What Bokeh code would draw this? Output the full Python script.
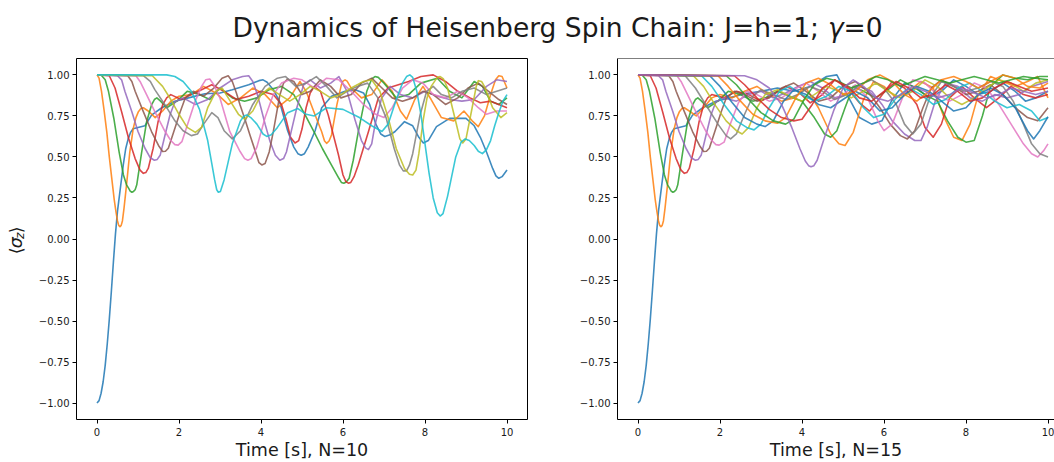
import math
from bokeh.plotting import figure
from bokeh.models import Range1d, Label, Span, FixedTicker, CustomJSTickFormatter
from bokeh.layouts import column, row
from bokeh.embed import file_html
from bokeh.resources import INLINE

TAB10 = ["#1f77b4", "#ff7f0e", "#2ca02c", "#d62728", "#9467bd",
         "#8c564b", "#e377c2", "#7f7f7f", "#bcbd22", "#17becf"]

TITLE = "Dynamics of Heisenberg Spin Chain: J=h=1; "
XLABEL_LEFT = "Time [s], N=10"
XLABEL_RIGHT = "Time [s], N=15"
X_TICKS = [0, 2, 4, 6, 8, 10]
Y_TICKS = [-1.0, -0.75, -0.5, -0.25, 0.0, 0.25, 0.5, 0.75, 1.0]

# ---- N = 10 : (time, <sigma_z>) per site ----
L0 = [(0,-1),(.05,-.985),(.1,-.94),(.15,-.87),(.2,-.77),(.25,-.64),(.3,-.49),(.35,-.32),(.4,-.14),(.45,.03),(.5,.17),(.56,.29),(.64,.45),(.7,.55),(.76,.61),(.82,.65),(.88,.672),(1.0,.68),(1.17,.69),(1.33,.755),(1.58,.80),(1.9,.84),(2.23,.86),(2.63,.885),(3.0,.89),(3.3,.91),(3.7,.94),(3.95,.965),(4.05,.97),(4.15,.955),(4.3,.91),(4.45,.84),(4.65,.66),(4.8,.56),(4.9,.52),(4.98,.51),(5.06,.52),(5.15,.56),(5.32,.66),(5.48,.80),(5.72,.87),(6.05,.90),(6.3,.91),(6.5,.89),(6.65,.82),(6.8,.70),(6.92,.64),(7.02,.625),(7.15,.635),(7.27,.655),(7.5,.715),(7.7,.69),(7.85,.62),(7.96,.585),(8.08,.60),(8.28,.685),(8.6,.735),(9.0,.735),(9.2,.69),(9.35,.62),(9.5,.53),(9.65,.43),(9.73,.385),(9.8,.37),(9.88,.38),(10,.42)]
L1 = [(0,1),(.05,.98),(.11,.90),(.17,.79),(.24,.65),(.3,.5),(.36,.37),(.42,.24),(.46,.17),(.5,.11),(.53,.083),(.56,.075),(.59,.083),(.62,.11),(.66,.19),(.72,.33),(.8,.53),(.885,.675),(.95,.74),(1.01,.776),(1.07,.795),(1.13,.80),(1.25,.78),(1.42,.74),(1.6,.78),(1.8,.84),(2.0,.87),(2.3,.88),(2.6,.93),(2.9,.89),(3.2,.82),(3.5,.86),(3.8,.92),(4.1,.88),(4.4,.80),(4.7,.86),(4.95,.96),(5.1,.90),(5.32,.756),(5.48,.654),(5.55,.597),(5.6,.583),(5.66,.597),(5.72,.634),(5.85,.817),(5.96,.939),(6.0,.962),(6.05,.97),(6.1,.962),(6.2,.92),(6.45,.86),(6.7,.88),(6.95,.97),(7.2,.90),(7.4,.78),(7.55,.73),(7.75,.85),(7.95,.93),(8.15,.85),(8.4,.74),(8.7,.72),(8.95,.78),(9.15,.72),(9.3,.685),(9.45,.75),(9.6,.88),(9.72,.97),(9.8,.995),(9.88,.99),(10,.92)]
L2 = [(0,1),(.1,1.0),(.2,.97),(.28,.90),(.41,.736),(.54,.53),(.645,.39),(.72,.33),(.77,.31),(.81,.292),(.85,.285),(.89,.29),(.93,.30),(.97,.33),(1.03,.43),(1.09,.53),(1.21,.715),(1.33,.817),(1.4,.85),(1.46,.86),(1.55,.84),(1.7,.80),(1.95,.84),(2.2,.90),(2.5,.88),(2.75,.85),(3.0,.92),(3.3,.86),(3.6,.84),(3.9,.86),(4.2,.91),(4.5,.93),(4.8,.88),(5.07,.76),(5.3,.65),(5.5,.55),(5.72,.45),(5.9,.37),(5.96,.345),(6.02,.34),(6.08,.347),(6.15,.37),(6.25,.48),(6.37,.65),(6.5,.81),(6.58,.90),(6.7,.975),(6.78,.99),(6.86,.985),(7.0,.95),(7.3,.86),(7.6,.88),(7.9,.95),(8.3,.98),(8.6,.90),(8.9,.86),(9.2,.96),(9.4,.93),(9.6,.84),(9.8,.82),(10,.86)]
L3 = [(0,1),(.3,.995),(.44,.92),(.6,.776),(.77,.614),(.93,.49),(1.05,.42),(1.13,.40),(1.19,.405),(1.25,.43),(1.37,.553),(1.49,.715),(1.6,.817),(1.7,.86),(1.8,.88),(2.05,.85),(2.3,.88),(2.55,.91),(2.8,.94),(3.1,.90),(3.4,.85),(3.7,.87),(4.0,.90),(4.3,.88),(4.5,.82),(4.62,.72),(4.72,.62),(4.83,.585),(4.92,.60),(5.0,.67),(5.1,.80),(5.2,.89),(5.3,.93),(5.45,.90),(5.64,.756),(5.89,.512),(6.0,.39),(6.07,.35),(6.13,.34),(6.19,.345),(6.27,.38),(6.37,.45),(6.62,.654),(6.86,.858),(7.1,.92),(7.35,.94),(7.6,.96),(7.9,.99),(8.2,1.0),(8.5,.96),(8.8,.90),(9.1,.86),(9.35,.83),(9.6,.84),(9.8,.82),(10,.80)]
L4 = [(0,1),(.5,.995),(.6,.97),(.68,.90),(.85,.776),(1.0,.655),(1.17,.553),(1.3,.495),(1.4,.48),(1.47,.485),(1.54,.51),(1.66,.634),(1.78,.756),(1.9,.837),(2.1,.86),(2.4,.82),(2.7,.85),(3.0,.92),(3.3,.97),(3.55,.99),(3.7,.995),(3.8,.96),(3.9,.89),(3.98,.817),(4.1,.70),(4.22,.594),(4.35,.51),(4.46,.48),(4.55,.49),(4.62,.53),(4.75,.67),(4.87,.797),(5.04,.94),(5.2,.97),(5.45,.92),(5.7,.95),(5.9,.99),(6.1,.90),(6.3,.72),(6.45,.60),(6.55,.555),(6.62,.545),(6.7,.58),(6.78,.695),(6.94,.858),(7.15,.93),(7.4,.88),(7.7,.86),(8.0,.90),(8.3,.87),(8.6,.85),(8.9,.84),(9.2,.85),(9.5,.93),(9.75,.97),(10,.96)]
L5 = [(0,1),(.75,.995),(.85,.96),(.93,.90),(1.13,.776),(1.33,.655),(1.5,.57),(1.6,.533),(1.67,.535),(1.74,.553),(1.9,.675),(2.03,.776),(2.15,.858),(2.35,.90),(2.6,.87),(2.85,.92),(3.05,.98),(3.2,.995),(3.3,.96),(3.4,.89),(3.49,.817),(3.62,.72),(3.73,.634),(3.88,.52),(3.95,.465),(4.02,.451),(4.1,.46),(4.2,.53),(4.3,.654),(4.46,.878),(4.55,.95),(4.65,.975),(4.8,.96),(5.0,.88),(5.2,.90),(5.45,.97),(5.7,.93),(5.95,.86),(6.2,.88),(6.45,.95),(6.7,.98),(6.95,.92),(7.2,.86),(7.45,.84),(7.7,.86),(7.95,.90),(8.2,.88),(8.5,.82),(8.8,.86),(9.05,.92),(9.3,.95),(9.55,.90),(9.8,.85),(10,.82)]
L6 = [(0,1),(.95,.995),(1.05,.96),(1.17,.90),(1.41,.776),(1.66,.655),(1.8,.60),(1.9,.575),(1.98,.572),(2.07,.593),(2.23,.715),(2.39,.837),(2.55,.93),(2.65,.97),(2.75,.975),(2.85,.94),(3.0,.858),(3.24,.654),(3.49,.533),(3.6,.49),(3.68,.48),(3.76,.49),(3.9,.56),(4.1,.74),(4.3,.88),(4.5,.95),(4.8,.98),(5.0,.97),(5.3,.92),(5.6,.98),(5.9,.97),(6.2,.90),(6.5,.82),(6.8,.76),(7.0,.74),(7.2,.80),(7.45,.92),(7.7,.97),(7.95,.95),(8.2,.88),(8.5,.86),(8.8,.90),(9.05,.86),(9.3,.80),(9.5,.76),(9.75,.78),(10,.78)]
L7 = [(0,1),(1.13,.995),(1.3,.96),(1.41,.91),(1.66,.817),(1.9,.72),(2.1,.66),(2.3,.63),(2.45,.64),(2.6,.70),(2.8,.77),(2.95,.74),(3.1,.66),(3.3,.61),(3.5,.66),(3.8,.82),(4.1,.93),(4.4,.98),(4.6,.99),(4.85,.93),(5.1,.95),(5.35,.99),(5.6,.93),(5.85,.86),(6.1,.90),(6.35,.93),(6.6,.95),(6.85,.86),(7.05,.74),(7.25,.55),(7.38,.45),(7.47,.415),(7.55,.415),(7.62,.45),(7.7,.52),(7.88,.756),(8.04,.90),(8.2,.93),(8.4,.88),(8.65,.86),(8.9,.90),(9.2,.92),(9.5,.88),(9.75,.90),(10,.92)]
L8 = [(0,1),(1.35,.995),(1.6,.93),(1.8,.85),(2.0,.76),(2.2,.68),(2.4,.65),(2.55,.68),(2.7,.80),(2.9,.90),(3.05,.92),(3.25,.84),(3.45,.76),(3.6,.73),(3.8,.78),(4.0,.88),(4.2,.92),(4.45,.88),(4.7,.84),(4.95,.88),(5.2,.93),(5.45,.90),(5.7,.86),(5.95,.88),(6.2,.92),(6.5,.96),(6.7,.97),(6.9,.90),(7.1,.74),(7.3,.55),(7.5,.43),(7.62,.395),(7.7,.39),(7.78,.42),(7.85,.52),(7.96,.73),(8.05,.86),(8.15,.93),(8.3,.985),(8.37,.99),(8.45,.975),(8.55,.92),(8.77,.695),(8.85,.61),(8.92,.585),(9.0,.61),(9.15,.80),(9.25,.93),(9.3,.965),(9.38,.96),(9.45,.93),(9.65,.80),(9.85,.74),(10,.77)]
L9 = [(0,1),(1.7,1.0),(1.9,.99),(2.1,.96),(2.3,.9),(2.5,.79),(2.7,.6),(2.8,.46),(2.87,.36),(2.92,.30),(2.96,.285),(3.01,.29),(3.1,.36),(3.2,.47),(3.3,.58),(3.5,.72),(3.58,.748),(3.65,.756),(3.75,.74),(3.9,.70),(4.05,.64),(4.14,.625),(4.25,.635),(4.4,.68),(4.65,.77),(4.9,.795),(5.1,.76),(5.3,.75),(5.6,.80),(6.0,.79),(6.4,.74),(6.7,.69),(6.95,.655),(7.1,.70),(7.3,.85),(7.45,.95),(7.55,.99),(7.63,1.0),(7.7,.985),(7.8,.90),(7.9,.76),(8.0,.58),(8.1,.40),(8.2,.25),(8.3,.16),(8.37,.14),(8.44,.155),(8.55,.26),(8.65,.38),(8.75,.5),(8.88,.59),(8.98,.61),(9.08,.60),(9.2,.57),(9.3,.535),(9.4,.52),(9.5,.545),(9.6,.6),(9.7,.69),(9.8,.77),(9.9,.84),(10,.88)]

# ---- N = 15 : (time, <sigma_z>) per site ----
R0 = [(0,-1),(.05,-.985),(.1,-.94),(.15,-.87),(.2,-.77),(.25,-.64),(.3,-.49),(.35,-.32),(.4,-.14),(.45,.03),(.5,.17),(.56,.29),(.64,.45),(.7,.55),(.76,.61),(.82,.65),(.88,.672),(1.0,.68),(1.17,.69),(1.33,.755),(1.58,.80),(1.9,.84),(2.23,.86),(2.6,.885),(3.0,.90),(3.4,.92),(3.8,.90),(4.2,.93),(4.6,.99),(4.85,1.0),(5.1,.88),(5.4,.74),(5.7,.70),(5.95,.72),(6.2,.85),(6.5,.95),(6.8,.92),(7.1,.86),(7.4,.90),(7.7,.97),(8.0,.93),(8.3,.88),(8.6,.90),(8.9,.95),(9.2,.90),(9.45,.84),(9.7,.86),(10,.90)]
R1 = [(0,1),(.05,.98),(.11,.90),(.17,.79),(.24,.65),(.3,.5),(.36,.37),(.42,.24),(.46,.17),(.5,.11),(.53,.083),(.56,.075),(.59,.083),(.62,.11),(.66,.19),(.72,.33),(.8,.53),(.885,.675),(.95,.74),(1.01,.776),(1.07,.795),(1.13,.80),(1.25,.78),(1.42,.75),(1.6,.80),(1.8,.86),(2.0,.88),(2.3,.86),(2.6,.90),(2.9,.93),(3.2,.88),(3.5,.84),(3.8,.86),(4.1,.92),(4.4,.80),(4.7,.64),(4.9,.58),(5.05,.57),(5.25,.65),(5.5,.85),(5.75,.96),(6.0,.93),(6.3,.86),(6.6,.90),(6.9,.96),(7.2,.92),(7.45,.75),(7.7,.62),(7.9,.60),(8.1,.70),(8.3,.88),(8.6,.99),(8.9,.96),(9.2,.93),(9.5,.96),(9.75,.99),(10,.86)]
R2 = [(0,1),(.1,1.0),(.2,.97),(.28,.90),(.41,.736),(.54,.53),(.645,.39),(.72,.33),(.77,.31),(.81,.292),(.85,.285),(.89,.29),(.93,.30),(.97,.33),(1.03,.43),(1.09,.53),(1.21,.715),(1.33,.817),(1.4,.85),(1.46,.86),(1.55,.84),(1.7,.80),(1.95,.84),(2.2,.90),(2.5,.88),(2.8,.84),(3.1,.86),(3.4,.90),(3.7,.87),(4.0,.84),(4.3,.74),(4.55,.64),(4.7,.62),(4.85,.66),(5.05,.80),(5.25,.93),(5.5,.90),(5.8,.86),(6.1,.91),(6.4,.97),(6.7,.93),(7.0,.88),(7.3,.84),(7.55,.72),(7.8,.62),(8.0,.59),(8.2,.60),(8.4,.75),(8.6,.93),(8.9,1.0),(9.2,.98),(9.5,.97),(9.8,.99),(10,.99)]
R3 = [(0,1),(.3,.995),(.44,.92),(.6,.776),(.77,.614),(.93,.49),(1.05,.42),(1.13,.40),(1.19,.405),(1.25,.43),(1.37,.553),(1.49,.715),(1.6,.817),(1.7,.86),(1.8,.88),(2.1,.86),(2.4,.90),(2.7,.88),(3.0,.84),(3.3,.88),(3.6,.93),(3.9,.90),(4.2,.83),(4.5,.88),(4.8,.97),(5.1,.92),(5.4,.83),(5.65,.78),(5.9,.86),(6.2,.96),(6.5,.92),(6.8,.82),(7.0,.68),(7.2,.62),(7.4,.70),(7.6,.86),(7.9,.93),(8.2,.86),(8.5,.80),(8.8,.86),(9.1,.93),(9.4,.88),(9.7,.86),(10,.88)]
R4 = [(0,1),(.5,.995),(.6,.97),(.68,.90),(.85,.776),(1.0,.655),(1.17,.553),(1.3,.495),(1.4,.48),(1.47,.485),(1.54,.51),(1.66,.634),(1.78,.756),(1.9,.837),(2.1,.86),(2.4,.84),(2.7,.88),(3.0,.90),(3.3,.86),(3.6,.89),(3.9,.93),(4.2,.96),(4.5,.92),(4.8,.86),(5.1,.88),(5.4,.93),(5.7,.90),(5.95,.82),(6.2,.72),(6.5,.64),(6.75,.60),(6.9,.60),(7.05,.68),(7.25,.84),(7.5,.95),(7.8,.93),(8.1,.86),(8.4,.84),(8.7,.88),(9.0,.86),(9.3,.88),(9.6,.93),(10,.96)]
R5 = [(0,1),(.75,.995),(.85,.96),(.93,.90),(1.13,.776),(1.33,.655),(1.5,.57),(1.6,.533),(1.67,.535),(1.74,.553),(1.9,.675),(2.03,.776),(2.15,.858),(2.35,.90),(2.6,.88),(2.9,.84),(3.2,.86),(3.5,.92),(3.8,.95),(4.1,.90),(4.4,.84),(4.7,.86),(5.0,.93),(5.3,.96),(5.6,.90),(5.9,.80),(6.15,.70),(6.4,.63),(6.57,.61),(6.75,.66),(6.95,.80),(7.15,.92),(7.4,.97),(7.7,.93),(8.0,.88),(8.3,.90),(8.6,.94),(8.9,.88),(9.2,.80),(9.5,.74),(9.75,.72),(10,.80)]
R6 = [(0,1),(.95,.995),(1.05,.96),(1.17,.90),(1.41,.776),(1.66,.655),(1.8,.60),(1.9,.575),(1.98,.572),(2.1,.59),(2.25,.70),(2.45,.83),(2.65,.90),(2.9,.88),(3.2,.84),(3.5,.86),(3.8,.91),(4.1,.95),(4.4,.90),(4.7,.84),(5.0,.88),(5.3,.94),(5.6,.86),(5.85,.72),(6.0,.66),(6.2,.70),(6.45,.86),(6.7,.97),(7.0,.95),(7.3,.88),(7.6,.84),(7.9,.88),(8.2,.95),(8.5,.92),(8.8,.82),(9.1,.70),(9.4,.58),(9.6,.52),(9.75,.50),(9.9,.54),(10,.58)]
R7 = [(0,1),(1.15,.995),(1.4,.92),(1.7,.80),(1.95,.70),(2.15,.63),(2.26,.61),(2.4,.64),(2.6,.76),(2.8,.87),(3.0,.91),(3.3,.88),(3.6,.85),(3.9,.88),(4.2,.93),(4.5,.90),(4.8,.85),(5.1,.88),(5.4,.94),(5.7,.97),(6.0,.92),(6.3,.82),(6.5,.70),(6.7,.64),(6.9,.70),(7.1,.85),(7.4,.96),(7.7,.93),(8.0,.90),(8.3,.92),(8.6,.96),(8.9,.93),(9.15,.84),(9.4,.70),(9.6,.58),(9.8,.52),(10,.50)]
R8 = [(0,1),(1.35,.995),(1.6,.93),(1.9,.81),(2.15,.72),(2.4,.66),(2.54,.64),(2.7,.68),(2.9,.80),(3.1,.88),(3.4,.91),(3.7,.87),(4.0,.84),(4.3,.88),(4.6,.93),(4.9,.90),(5.2,.86),(5.5,.90),(5.8,.95),(6.1,.90),(6.4,.86),(6.7,.90),(7.0,.97),(7.3,.93),(7.6,.86),(7.9,.82),(8.2,.86),(8.5,.92),(8.8,.97),(9.1,.95),(9.4,.90),(9.7,.95),(10,.97)]
R9 = [(0,1),(1.55,.995),(1.8,.93),(2.1,.82),(2.4,.72),(2.65,.68),(2.83,.665),(3.0,.70),(3.2,.80),(3.45,.90),(3.7,.93),(4.0,.88),(4.3,.84),(4.6,.87),(4.9,.93),(5.2,.90),(5.5,.80),(5.75,.74),(6.0,.76),(6.3,.86),(6.6,.92),(6.9,.88),(7.2,.82),(7.5,.85),(7.8,.92),(8.1,.95),(8.4,.90),(8.7,.84),(9.0,.80),(9.3,.82),(9.6,.78),(9.8,.72),(10,.74)]
R10 = [(0,1),(1.75,.995),(2.0,.93),(2.3,.83),(2.6,.74),(2.9,.70),(3.1,.685),(3.3,.72),(3.55,.84),(3.8,.91),(4.1,.88),(4.4,.82),(4.7,.80),(5.0,.85),(5.3,.90),(5.6,.86),(5.9,.78),(6.2,.80),(6.5,.88),(6.8,.93),(7.1,.90),(7.4,.84),(7.7,.78),(8.0,.80),(8.3,.88),(8.6,.92),(8.9,.88),(9.2,.80),(9.5,.66),(9.65,.61),(9.8,.66),(10,.745)]
R11 = [(0,1),(1.95,.995),(2.2,.93),(2.5,.84),(2.8,.76),(3.1,.72),(3.4,.705),(3.6,.74),(3.85,.86),(4.1,.95),(4.4,.98),(4.7,.94),(5.0,.88),(5.3,.90),(5.6,.97),(5.9,1.0),(6.2,.96),(6.5,.88),(6.8,.84),(7.1,.90),(7.4,.97),(7.7,.99),(8.0,.96),(8.3,.92),(8.6,.96),(8.9,1.0),(9.2,.98),(9.5,.93),(9.8,.92),(10,.95)]
R12 = [(0,1),(2.15,.995),(2.4,.94),(2.7,.85),(3.0,.77),(3.3,.72),(3.6,.70),(3.8,.73),(4.05,.85),(4.3,.94),(4.6,.98),(4.9,.96),(5.2,.92),(5.5,.95),(5.8,.99),(6.1,.97),(6.4,.93),(6.7,.96),(7.0,.99),(7.3,.97),(7.6,.95),(7.9,.97),(8.2,.99),(8.5,.97),(8.8,.95),(9.1,.97),(9.4,.99),(9.7,.98),(10,.97)]
R13 = [(0,1),(2.35,.995),(2.6,.94),(2.9,.86),(3.2,.79),(3.5,.74),(3.8,.72),(4.0,.73),(4.25,.82),(4.5,.92),(4.8,.97),(5.1,.93),(5.4,.86),(5.7,.84),(6.0,.90),(6.3,.96),(6.6,.92),(6.9,.86),(7.2,.88),(7.5,.94),(7.8,.90),(8.1,.84),(8.4,.86),(8.7,.92),(9.0,.96),(9.3,.93),(9.6,.90),(10,.92)]
R14 = [(0,1),(2.6,.995),(2.9,.97),(3.2,.92),(3.5,.82),(3.75,.68),(3.95,.55),(4.08,.475),(4.16,.447),(4.22,.44),(4.29,.447),(4.37,.48),(4.55,.62),(4.78,.787),(5.0,.92),(5.25,.97),(5.5,.93),(5.8,.86),(6.1,.84),(6.4,.88),(6.7,.93),(7.0,.90),(7.3,.86),(7.6,.88),(7.9,.92),(8.2,.89),(8.5,.86),(8.8,.88),(9.1,.92),(9.4,.90),(9.7,.88),(10,.90)]

LEFT = [L0, L1, L2, L3, L4, L5, L6, L7, L8, L9]
RIGHT = [R0, R1, R2, R3, R4, R5, R6, R7, R8, R9, R10, R11, R12, R13, R14]

FONT = "DejaVu Sans"
TEXT_COLOR = "#1a1a1a"
TITLE_H = 45
PLOT_H = 462 - TITLE_H
YLAB_W = 30
BASE_SHIFT = 7  # rendered alphabetic baseline offset compensation


def style_axes(p):
    for ax in (p.xaxis[0], p.yaxis[0]):
        ax.major_tick_in = 0
        ax.major_tick_out = 4
        ax.minor_tick_in = 0
        ax.minor_tick_out = 0
        ax.major_tick_line_color = "black"
        ax.major_tick_line_width = 1
        ax.major_label_text_font = FONT
        ax.major_label_text_font_size = "10px"
        ax.major_label_text_color = TEXT_COLOR
        ax.major_label_standoff = 3
    p.xaxis[0].major_label_standoff = 4
    p.xaxis[0].ticker = FixedTicker(ticks=X_TICKS, minor_ticks=[])
    p.yaxis[0].ticker = FixedTicker(ticks=Y_TICKS, minor_ticks=[])
    p.xaxis[0].formatter = CustomJSTickFormatter(code="return tick.toFixed(0);")
    p.yaxis[0].formatter = CustomJSTickFormatter(
        code="return tick.toFixed(2).replace('-', '\u2212');")
    p.xaxis[0].axis_label_text_font = FONT
    p.xaxis[0].axis_label_text_font_size = "17.5px"
    p.xaxis[0].axis_label_text_font_style = "normal"
    p.xaxis[0].axis_label_text_color = TEXT_COLOR
    p.xaxis[0].axis_label_standoff = 1
    p.xgrid.visible = False
    p.ygrid.visible = False


def make_panel(width, border_left, border_right, x_end, series, xlabel):
    p = figure(width=width, height=PLOT_H, x_range=Range1d(-0.5, x_end),
               y_range=Range1d(-1.1, 1.1), toolbar_location=None,
               output_backend="svg", min_border_left=border_left,
               min_border_right=border_right, min_border_top=13,
               min_border_bottom=42, x_axis_label=xlabel)
    p.background_fill_color = "white"
    p.border_fill_color = "white"
    style_axes(p)
    for i, s in enumerate(series):
        ts = [a for a, b in s]
        vs = [b for a, b in s]
        p.line(ts, vs, line_color=TAB10[i % 10], line_width=1.6,
               line_alpha=0.85, line_join="round")
    return p


p1 = make_panel(548 - YLAB_W, 76 - YLAB_W, 21, 10.5, LEFT, XLABEL_LEFT)
p1.outline_line_color = "black"
p1.outline_line_width = 1
p1.xaxis.axis_line_color = None
p1.yaxis.axis_line_color = None

p2 = make_panel(506, 69, 0, -0.5 + 437 / 41.0, RIGHT, XLABEL_RIGHT)
p2.outline_line_color = None
p2.xaxis.axis_line_color = "black"
p2.yaxis.axis_line_color = "black"
p2.add_layout(Span(location=1.1, dimension="width", line_color="black", line_width=1))

# strip holding the rotated y-axis label <sigma_z>; data units = page pixels
py = figure(width=YLAB_W, height=PLOT_H, x_range=Range1d(0, YLAB_W),
            y_range=Range1d(462, TITLE_H), toolbar_location=None,
            output_backend="svg", min_border=0, x_axis_type=None,
            y_axis_type=None)
py.outline_line_color = None
py.background_fill_color = "white"
py.border_fill_color = "white"
ylab = [("\u27e8", 271.0, 22, "17.5px", "normal"),
        ("\u03c3", 264.2, 22, "17.5px", "italic"),
        ("z", 253.6, 26, "12.2px", "italic"),
        ("\u27e9", 246.9, 22, "17.5px", "normal")]
for txt, ypos, xpos, fs, st in ylab:
    py.add_layout(Label(x=xpos - BASE_SHIFT, y=ypos, text=txt, angle=math.pi / 2,
                        text_align="left", text_baseline="alphabetic",
                        text_font=FONT, text_font_size=fs, text_font_style=st,
                        text_color=TEXT_COLOR))

# Title strip; data units = page pixels
p0 = figure(width=1054, height=TITLE_H, x_range=Range1d(0, 1054),
            y_range=Range1d(TITLE_H, 0), toolbar_location=None,
            output_backend="svg", min_border=0, x_axis_type=None,
            y_axis_type=None)
p0.outline_line_color = None
p0.background_fill_color = "white"
p0.border_fill_color = "white"
TS = 26.5
x0 = 232.0
w1 = 22.469 * TS
parts = [(TITLE, x0, "normal"), ("\u03b3", x0 + w1, "italic"),
         ("=0", x0 + w1 + 0.592 * TS, "normal")]
for txt, px, st in parts:
    p0.add_layout(Label(x=px, y=33.5 - BASE_SHIFT, text=txt, text_align="left",
                        text_baseline="alphabetic", text_font=FONT,
                        text_font_size="%.1fpx" % TS, text_font_style=st,
                        text_color=TEXT_COLOR))

layout = column(p0, row(py, p1, p2, spacing=0), spacing=0)
open("out.html", "w").write(file_html(layout, INLINE))
